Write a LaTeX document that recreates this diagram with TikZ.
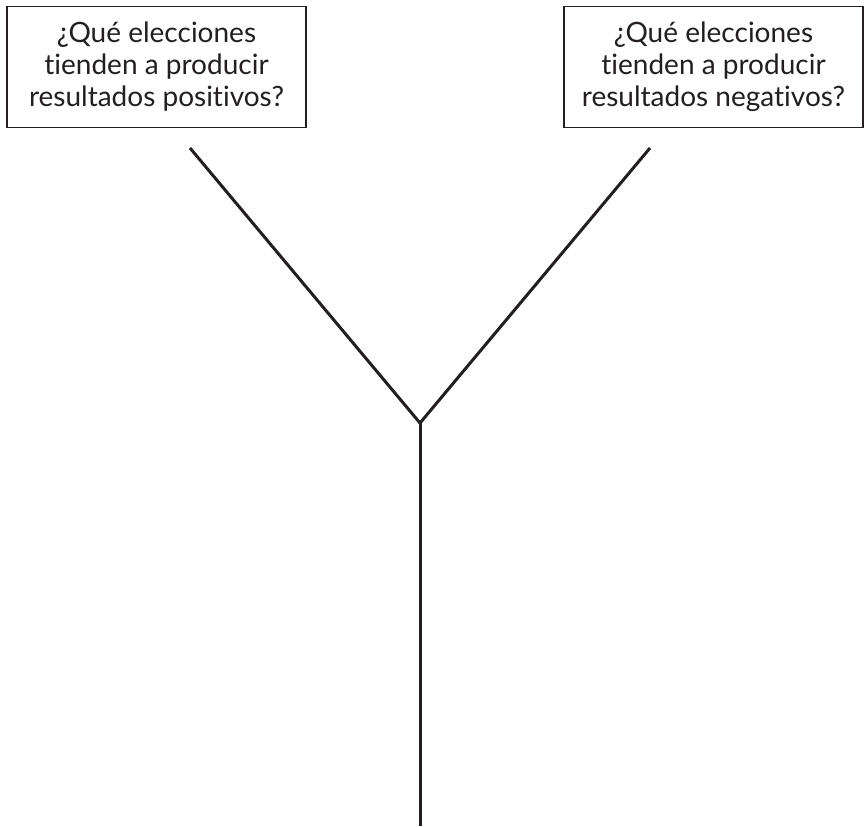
\documentclass[tikz,border=0pt]{standalone}
\usepackage{fontspec}
\setmainfont{Lato}[Ligatures=NoCommon]
\definecolor{ink}{HTML}{231F20}
\begin{document}
\begin{tikzpicture}[x=0.5pt,y=-0.5pt,
  question/.style={draw=ink, line width=0.8pt, text=ink, align=center,
    minimum width=149.5pt, minimum height=60.5pt, inner sep=0pt,
    font=\fontsize{14}{16}\selectfont},
  branch/.style={draw=ink, line width=1.5pt}]
  \useasboundingbox (0,0) rectangle (867,826);
  % question boxes
  \node[question] (pos) at (156.5,67) {¿Qué elecciones\\tienden a producir\\resultados positivos?};
  \node[question] (neg) at (713.5,67) {¿Qué elecciones\\tienden a producir\\resultados negativos?};
  % Y-shaped branch lines
  \coordinate (fork) at (420,423);
  \coordinate (lefttop) at (190,148);
  \coordinate (righttop) at (650,148);
  \coordinate (stem) at (420,826);
  \draw[branch] (lefttop) -- (fork);
  \draw[branch] (righttop) -- (fork);
  \draw[branch, line cap=butt] (fork) -- (stem);
\end{tikzpicture}
\end{document}
